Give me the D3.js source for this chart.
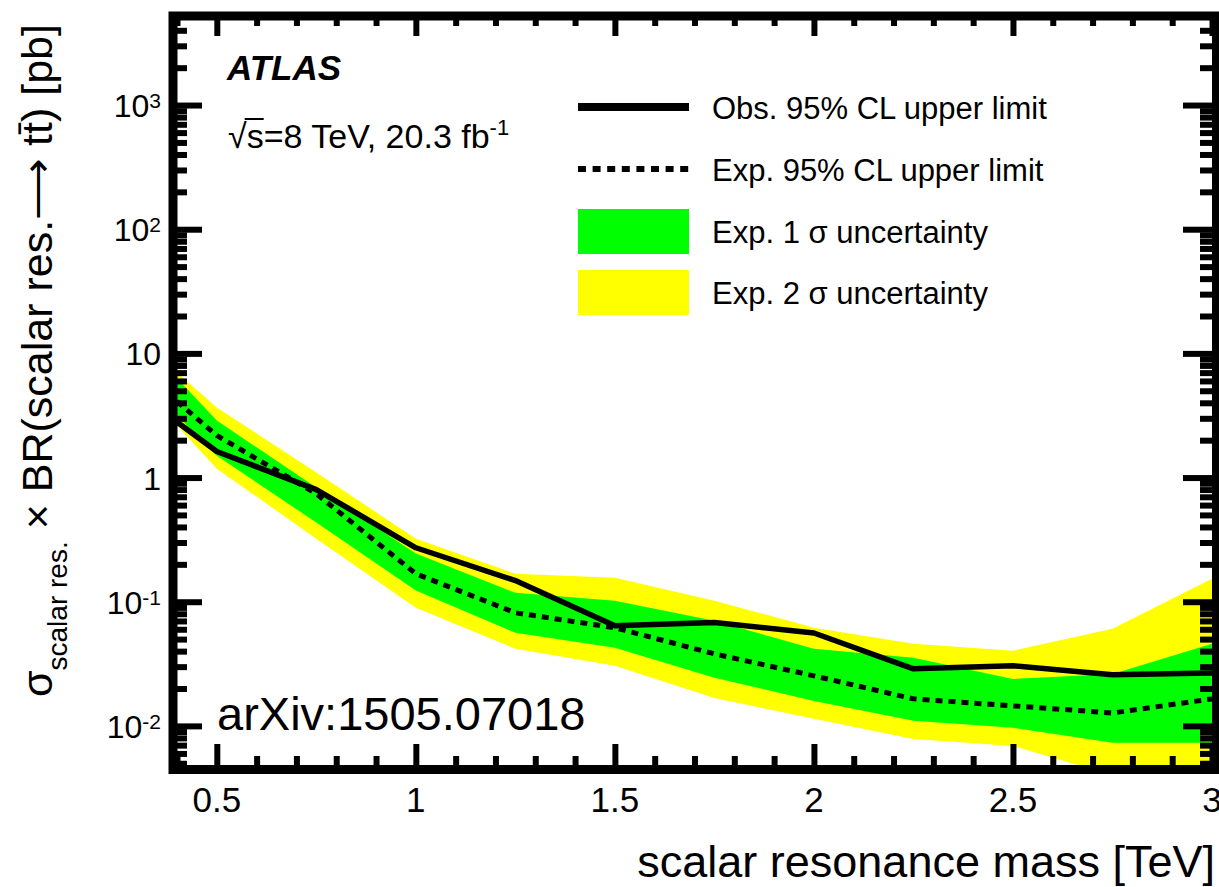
<!DOCTYPE html>
<html>
<head>
<meta charset="utf-8">
<script src="https://cdnjs.cloudflare.com/ajax/libs/d3/7.8.5/d3.min.js"></script>
<style>
body { margin: 0; background: white; }
text { font-family: "Liberation Sans", Arial, Helvetica, sans-serif; fill: black; }
</style>
</head>
<body>
<script>
// scalar resonance mass points [TeV]
var mass = [0.4, 0.5, 0.75, 1.0, 1.25, 1.5, 1.75, 2.0, 2.25, 2.5, 2.75, 3.0];
// limits in pb
var obsLimit = [2.8, 1.62, 0.80, 0.272, 0.148, 0.064, 0.068, 0.056, 0.0288, 0.0305, 0.0258, 0.0267];
var expLimit = [4.1, 2.18, 0.74, 0.168, 0.0815, 0.0617, 0.038, 0.0253, 0.0165, 0.0145, 0.0127, 0.0165];
var sig1Up   = [6.3, 2.88, 0.83, 0.244, 0.118, 0.102, 0.0703, 0.0418, 0.0353, 0.0239, 0.0262, 0.0458];
var sig1Down = [3.16, 1.50, 0.434, 0.123, 0.0562, 0.0426, 0.0244, 0.0159, 0.011, 0.00964, 0.0073, 0.0073];
var sig2Up   = [7.0, 3.67, 1.10, 0.322, 0.168, 0.156, 0.102, 0.0617, 0.0458, 0.0403, 0.0605, 0.153];
var sig2Down = [2.63, 1.18, 0.322, 0.0895, 0.0418, 0.0305, 0.0168, 0.0114, 0.00785, 0.0069, 0.004, 0.004];

var xTicks = [0.5, 1, 1.5, 2, 2.5, 3];
var xTickLabels = ["0.5", "1", "1.5", "2", "2.5", "3"];
var yTicks = [1e-2, 1e-1, 1, 10, 100, 1000];
var yTickBase = ["10", "10", "1", "10", "10", "10"];
var yTickExp = ["-2", "-1", "", "", "2", "3"];
var legendLabels = ["Obs. 95% CL upper limit", "Exp. 95% CL upper limit", "Exp. 1 \u03c3 uncertainty", "Exp. 2 \u03c3 uncertainty"];

var green = "#00ff00", yellow = "#ffff00";
// plot area edges (inside the frame)
var padL = 177, padR = 1212, padT = 20, padB = 765;

var svg = d3.select("body").append("svg")
    .attr("width", 1219)
    .attr("height", 887);

var x = d3.scaleLinear().domain([0.4, 3.0]).range([padL, padR]);
var y = d3.scaleLog().domain([Math.pow(10, -2.315), Math.pow(10, 3.685)]).range([padB, padT]);

svg.append("clipPath").attr("id", "plotclip")
  .append("rect")
    .attr("x", padL).attr("y", padT)
    .attr("width", padR - padL).attr("height", padB - padT);

var plot = svg.append("g").attr("clip-path", "url(#plotclip)");

var rows = mass.map(function(m, i) {
    return {m: m, obs: obsLimit[i], exp: expLimit[i], u1: sig1Up[i], d1: sig1Down[i], u2: sig2Up[i], d2: sig2Down[i]};
});

// bands first, yellow under green
plot.append("path").datum(rows)
    .attr("fill", yellow)
    .attr("d", d3.area().x(function(d) { return x(d.m); }).y0(function(d) { return y(d.d2); }).y1(function(d) { return y(d.u2); }));
plot.append("path").datum(rows)
    .attr("fill", green)
    .attr("d", d3.area().x(function(d) { return x(d.m); }).y0(function(d) { return y(d.d1); }).y1(function(d) { return y(d.u1); }));

plot.append("path").datum(rows)
    .attr("fill", "none").attr("stroke", "black").attr("stroke-width", 5)
    .attr("stroke-dasharray", "7,6")
    .attr("d", d3.line().x(function(d) { return x(d.m); }).y(function(d) { return y(d.exp); }));
plot.append("path").datum(rows)
    .attr("fill", "none").attr("stroke", "black").attr("stroke-width", 5.5)
    .attr("stroke-linejoin", "round")
    .attr("d", d3.line().x(function(d) { return x(d.m); }).y(function(d) { return y(d.obs); }));

// ticks, ROOT style (inside the frame, on all four sides)
var xMinor = d3.range(4, 31).filter(function(i) { return i % 5 != 0; }).map(function(i) { return i / 10; });
var yMinor = [];
for (var k = -3; k <= 3; k++) {
    for (var m = 2; m <= 9; m++) {
        var v = m * Math.pow(10, k);
        if (v > y.domain()[0] && v < y.domain()[1]) yMinor.push(v);
    }
}

function tickAxis(axis, vals, size, tx, ty) {
    var g = svg.append("g")
        .attr("transform", "translate(" + tx + "," + ty + ")")
        .call(axis.tickValues(vals).tickSize(size).tickFormat(""));
    g.select(".domain").remove();
    g.selectAll("line").attr("stroke", "black").attr("stroke-width", 6);
}
tickAxis(d3.axisTop(x), xTicks, 21, 0, padB);
tickAxis(d3.axisTop(x), xMinor, 9, 0, padB);
tickAxis(d3.axisBottom(x), xTicks, 16, 0, padT);
tickAxis(d3.axisBottom(x), xMinor, 6, 0, padT);
tickAxis(d3.axisRight(y), yTicks, 25, padL, 0);
tickAxis(d3.axisRight(y), yMinor, 10, padL, 0);
tickAxis(d3.axisLeft(y), yTicks, 29, padR, 0);
tickAxis(d3.axisLeft(y), yMinor, 12, padR, 0);

// thick frame
svg.append("rect")
    .attr("x", 173).attr("y", 16)
    .attr("width", 1043.5).attr("height", 753.5)
    .attr("fill", "none").attr("stroke", "black").attr("stroke-width", 9);

// tick labels
svg.selectAll(".xlab").data(xTicks).enter().append("text")
    .attr("class", "xlab")
    .attr("x", function(d) { return x(d); })
    .attr("y", 812)
    .attr("text-anchor", "middle")
    .attr("font-size", 35)
    .text(function(d, i) { return xTickLabels[i]; });

var ylab = svg.selectAll(".ylab").data(yTicks).enter().append("text")
    .attr("class", "ylab")
    .attr("x", 161)
    .attr("y", function(d) { return y(d) + 12; })
    .attr("text-anchor", "end")
    .attr("font-size", 32);
ylab.append("tspan").text(function(d, i) { return yTickBase[i]; });
ylab.append("tspan")
    .attr("font-size", 21)
    .attr("dy", function(d, i) { return yTickExp[i] ? -9 : 0; })
    .text(function(d, i) { return yTickExp[i]; });

// axis titles
svg.append("text")
    .attr("x", 1215).attr("y", 877)
    .attr("text-anchor", "end")
    .attr("font-size", 45)
    .text("scalar resonance mass [TeV]");

var yTitle = svg.append("text")
    .attr("transform", "translate(52,697) rotate(-90)")
    .attr("font-size", 43);
yTitle.append("tspan").text("\u03c3");
yTitle.append("tspan").attr("font-size", 28).attr("dy", 15).text("scalar res.");
yTitle.append("tspan").attr("dy", -15).text(" \u00d7 BR(scalar res.\u27f6 tt\u0304) [pb]");

// ATLAS label
svg.append("text")
    .attr("x", 227).attr("y", 80)
    .attr("font-size", 35)
    .attr("font-weight", "bold")
    .attr("font-style", "italic")
    .text("ATLAS");

var energy = svg.append("text")
    .attr("x", 228).attr("y", 148)
    .attr("font-size", 34);
energy.append("tspan").text("\u221as=8 TeV, 20.3 fb");
energy.append("tspan").attr("font-size", 22).attr("dy", -13).text("-1");
// overline of the square root over the s
var rootExt = energy.node().getExtentOfChar(0);
var sExt = energy.node().getExtentOfChar(1);
svg.append("line")
    .attr("x1", rootExt.x + rootExt.width - 2).attr("x2", sExt.x + sExt.width)
    .attr("y1", 119).attr("y2", 119)
    .attr("stroke", "black").attr("stroke-width", 2);

// legend
var legY = [107, 169, 231, 292];
var leg = svg.selectAll(".leg").data(legendLabels).enter().append("g")
    .attr("class", "leg")
    .attr("transform", function(d, i) { return "translate(578," + legY[i] + ")"; });
leg.append("text")
    .attr("x", 134).attr("y", 12)
    .attr("font-size", 31)
    .text(function(d) { return d; });
leg.filter(function(d, i) { return i < 2; }).append("line")
    .attr("x1", 0).attr("x2", 111)
    .attr("stroke", "black")
    .attr("stroke-width", function(d, i) { return i == 0 ? 8 : 6; })
    .attr("stroke-dasharray", function(d, i) { return i == 0 ? null : "8,6.6"; });
leg.filter(function(d, i) { return i >= 2; }).append("rect")
    .attr("x", 0).attr("y", -22)
    .attr("width", 111).attr("height", 45)
    .attr("fill", function(d, i) { return i == 0 ? green : yellow; });

svg.append("text")
    .attr("x", 217).attr("y", 730)
    .attr("font-size", 47)
    .text("arXiv:1505.07018");
</script>
</body>
</html>
